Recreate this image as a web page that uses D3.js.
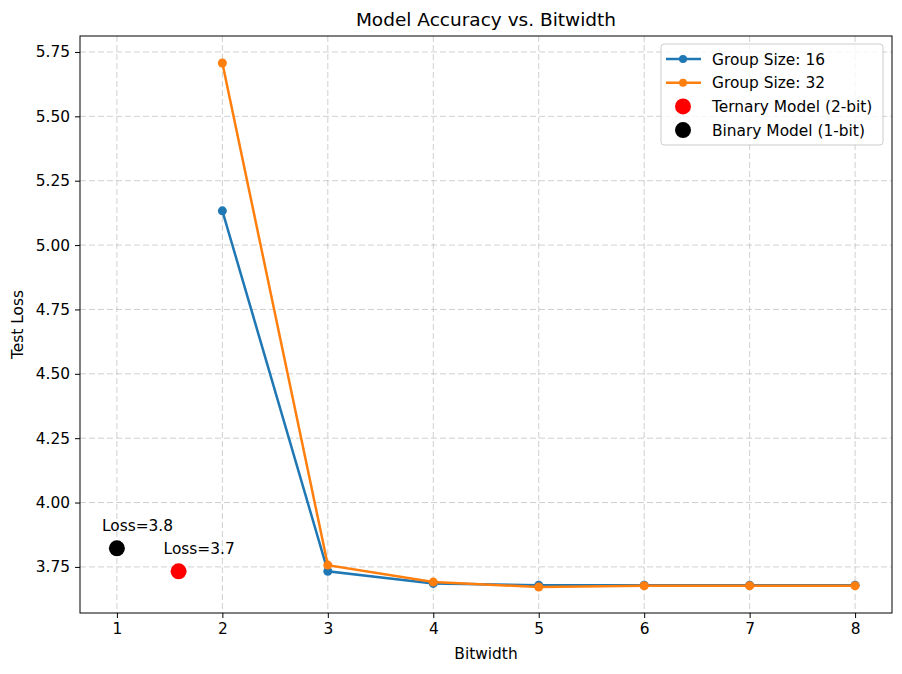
<!DOCTYPE html>
<html>
  <head>
    <meta charset="UTF-8">
    <title>Model Accuracy vs. Bitwidth</title>
    <script src="https://d3js.org/d3.v7.min.js"></script>
    <style>
      body { margin: 0; background: #fff; }
      text { font-family: "DejaVu Sans", sans-serif; fill: #000; }
    </style>
  </head>
  <body>
    <div id="graph"></div>
    <script>

const svgWidth = 902;
const svgHeight = 674;

const margin = {top: 36, right: 10, bottom: 61, left: 80};
const chartWidth = svgWidth - margin.left - margin.right;
const chartHeight = svgHeight - margin.top - margin.bottom;

// data
const bitwidths = [2, 3, 4, 5, 6, 7, 8];
const loss16 = [5.133, 3.733, 3.686, 3.679, 3.679, 3.679, 3.679];
const loss32 = [5.707, 3.757, 3.691, 3.672, 3.677, 3.677, 3.677];
const ternary = {bits: 1.585, loss: 3.733, label: "Loss=3.7"};
const binary = {bits: 1, loss: 3.822, label: "Loss=3.8"};
const xTicks = [1, 2, 3, 4, 5, 6, 7, 8];
const yTicks = [3.75, 4.00, 4.25, 4.50, 4.75, 5.00, 5.25, 5.50, 5.75];

const series = [
  {name: "Group Size: 16", color: "#1f77b4", values: loss16},
  {name: "Group Size: 32", color: "#ff7f0e", values: loss32}
];

const fontSize = "15.4px";

const svg = d3.select("#graph")
  .append("svg")
  .attr("width", svgWidth)
  .attr("height", svgHeight);

const chart = svg.append("g")
  .attr("transform", "translate(" + margin.left + "," + margin.top + ")");

const xScale = d3.scaleLinear().domain([0.65, 8.35]).range([0, chartWidth]);
const yScale = d3.scaleLinear().domain([3.571, 5.812]).range([chartHeight, 0]);

// grid
chart.append("g").selectAll("line")
  .data(xTicks).enter().append("line")
  .attr("x1", d => xScale(d)).attr("x2", d => xScale(d))
  .attr("y1", 0).attr("y2", chartHeight)
  .attr("stroke", "#b0b0b0").attr("stroke-opacity", 0.6)
  .attr("stroke-dasharray", "6,3").attr("stroke-width", 1);

chart.append("g").selectAll("line")
  .data(yTicks).enter().append("line")
  .attr("y1", d => yScale(d)).attr("y2", d => yScale(d))
  .attr("x1", 0).attr("x2", chartWidth)
  .attr("stroke", "#b0b0b0").attr("stroke-opacity", 0.6)
  .attr("stroke-dasharray", "6,3").attr("stroke-width", 1);

// axes
const xAxis = d3.axisBottom(xScale).tickValues(xTicks).tickFormat(d3.format("d"))
  .tickSize(5).tickPadding(5);
const yAxis = d3.axisLeft(yScale).tickValues(yTicks).tickFormat(d3.format(".2f"))
  .tickSize(5).tickPadding(5);

const gx = chart.append("g")
  .attr("transform", "translate(0," + chartHeight + ")")
  .call(xAxis);
const gy = chart.append("g").call(yAxis);

[gx, gy].forEach(g => {
  g.select(".domain").remove();
  g.selectAll("text").style("font-size", fontSize).style("font-family", "DejaVu Sans");
  g.selectAll("line").attr("stroke", "#000").attr("stroke-width", 1);
});

chart.append("rect")
  .attr("width", chartWidth).attr("height", chartHeight)
  .attr("fill", "none").attr("stroke", "#000").attr("stroke-width", 1);

// lines
const line = d3.line()
  .x((d, i) => xScale(bitwidths[i]))
  .y(d => yScale(d));

series.forEach(s => {
  chart.append("path")
    .datum(s.values)
    .attr("fill", "none")
    .attr("stroke", s.color)
    .attr("stroke-width", 2.5)
    .attr("d", line);
  chart.append("g").selectAll("circle")
    .data(s.values).enter().append("circle")
    .attr("cx", (d, i) => xScale(bitwidths[i]))
    .attr("cy", d => yScale(d))
    .attr("r", 4.5)
    .attr("fill", s.color);
});

// scatter points
[[binary, "#000"], [ternary, "#ff0000"]].forEach(([p, c]) => {
  chart.append("circle")
    .attr("cx", xScale(p.bits)).attr("cy", yScale(p.loss))
    .attr("r", 8).attr("fill", c);
  chart.append("text")
    .attr("x", xScale(p.bits) - 15).attr("y", yScale(p.loss) - 17)
    .style("font-size", fontSize)
    .text(p.label);
});

// title and labels
svg.append("text")
  .attr("x", margin.left + chartWidth / 2).attr("y", 26)
  .attr("text-anchor", "middle")
  .style("font-size", "18.5px")
  .text("Model Accuracy vs. Bitwidth");

svg.append("text")
  .attr("x", margin.left + chartWidth / 2).attr("y", 659)
  .attr("text-anchor", "middle")
  .style("font-size", fontSize)
  .text("Bitwidth");

svg.append("text")
  .attr("transform", "translate(23," + (margin.top + chartHeight / 2) + ") rotate(-90)")
  .attr("text-anchor", "middle")
  .style("font-size", fontSize)
  .text("Test Loss");

// legend
const legend = svg.append("g").attr("transform", "translate(661,44)");
legend.append("rect")
  .attr("width", 222).attr("height", 101).attr("rx", 3)
  .attr("fill", "#fff").attr("fill-opacity", 0.8)
  .attr("stroke", "#ccc");

const legendItems = [
  {name: series[0].name, color: series[0].color, type: "line"},
  {name: series[1].name, color: series[1].color, type: "line"},
  {name: "Ternary Model (2-bit)", color: "#ff0000", type: "dot"},
  {name: "Binary Model (1-bit)", color: "#000", type: "dot"}
];

legendItems.forEach((d, i) => {
  const row = legend.append("g").attr("transform", "translate(0," + (15 + i * 23.7) + ")");
  if (d.type === "line") {
    row.append("line").attr("x1", 5).attr("x2", 40)
      .attr("stroke", d.color).attr("stroke-width", 2.5);
    row.append("circle").attr("cx", 22).attr("r", 4).attr("fill", d.color);
  } else {
    row.append("circle").attr("cx", 22).attr("r", 8).attr("fill", d.color);
  }
  row.append("text").attr("x", 51).attr("y", 5.5)
    .style("font-size", fontSize)
    .text(d.name);
});

    </script>
  </body>
</html>
